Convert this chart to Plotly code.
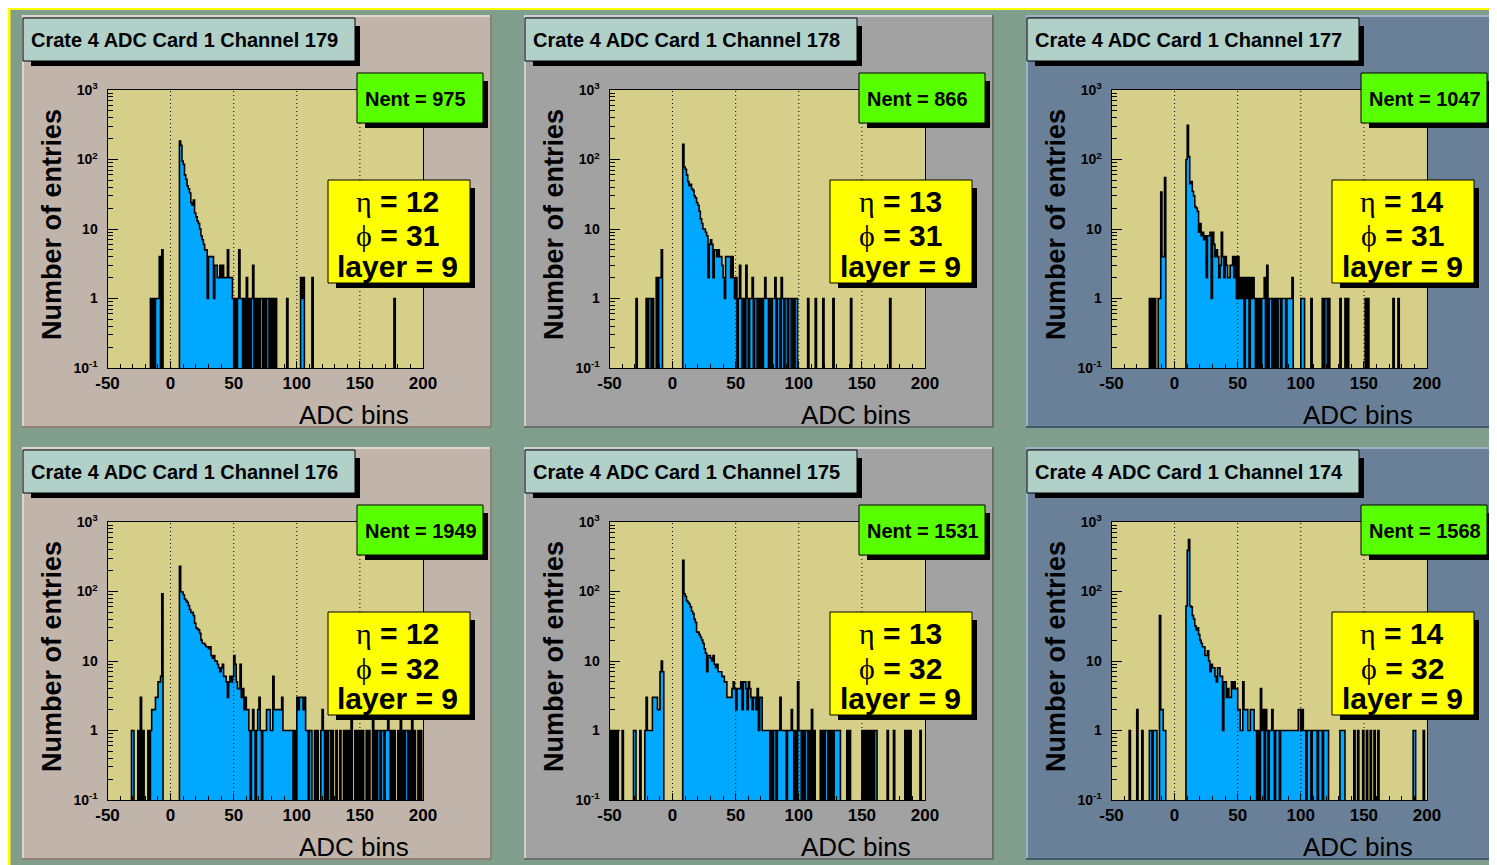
import plotly.graph_objects as go

# page size and the 8px body margin of the html page
PAGE_W, PAGE_H = 1497, 865
OFF = 8
W, H = PAGE_W - OFF, PAGE_H - OFF

# ---------------- data ----------------
channels = [179, 178, 177, 176, 175, 174]
nent = [975, 866, 1047, 1949, 1531, 1568]
eta = [12, 13, 14, 12, 13, 14]
phi = [31, 31, 31, 32, 32, 32]
layer = [9, 9, 9, 9, 9, 9]

x_ticks = [-50, 0, 50, 100, 150, 200]
x_ticktext = ["-50", "0", "50", "100", "150", "200"]
y_ticks = [0.1, 1, 10, 100, 1000]
y_ticktext = ["10<sup>-1</sup>", "1", "10", "10<sup>2</sup>", "10<sup>3</sup>"]

# ADC bin (lower edge, width 1) -> entries
counts_ch179 = {
    -16: 1, -14: 1, -12: 1, -11: 1, -10: 1, -9: 4, -7: 5,
    7: 185, 8: 160, 9: 95, 10: 85, 11: 60, 12: 52, 13: 42, 14: 38, 15: 33, 16: 24,
    17: 22, 18: 26, 19: 17, 20: 15, 21: 13, 22: 12, 23: 10, 24: 8, 25: 7, 26: 6,
    27: 5, 28: 5, 29: 1, 30: 4, 31: 4, 32: 4, 33: 4, 34: 1, 35: 3, 36: 3, 37: 2,
    38: 2, 39: 3, 40: 2, 41: 3, 42: 2, 43: 2, 44: 2, 45: 5, 46: 2, 47: 2, 48: 2,
    49: 1, 51: 1, 53: 1, 54: 5, 55: 1, 56: 1, 58: 1, 60: 2, 62: 1, 64: 1, 65: 3,
    67: 1, 69: 1, 71: 1, 72: 1, 74: 1, 76: 1, 77: 1, 79: 1, 81: 1, 83: 1,
    92: 1, 103: 2, 104: 1, 105: 2, 112: 2, 177: 1,
}
counts_ch178 = {
    -29: 1, -21: 1, -19: 1, -18: 1, -16: 1, -13: 2, -11: 2, -10: 2, -9: 5,
    8: 165, 9: 78, 10: 72, 11: 60, 12: 48, 13: 42, 14: 44, 15: 38, 16: 36, 17: 30,
    18: 28, 19: 24, 20: 22, 21: 18, 22: 14, 23: 12, 24: 10, 25: 10, 26: 9, 27: 8,
    28: 2, 29: 6, 30: 7, 31: 6, 32: 2, 33: 5, 34: 5, 35: 4, 36: 5, 37: 4, 38: 4,
    39: 3, 40: 2, 41: 1, 42: 4, 43: 4, 44: 4, 45: 4, 46: 2, 47: 4, 48: 2, 49: 1,
    50: 2, 52: 1, 53: 3, 54: 1, 56: 1, 58: 3, 59: 1, 61: 1, 62: 1, 63: 2, 65: 1,
    66: 1, 68: 1, 70: 1, 72: 1, 73: 2, 74: 1, 75: 1, 77: 1, 79: 1, 80: 1, 81: 2,
    83: 1, 84: 1, 86: 2, 87: 1, 89: 1, 90: 1, 92: 1, 93: 1, 95: 1, 97: 1, 98: 1,
    107: 1, 113: 1, 119: 1, 127: 1, 141: 1, 172: 1,
}
counts_ch177 = {
    -20: 1, -18: 1, -16: 1, -13: 1, -12: 1, -11: 34, -10: 4, -9: 4, -8: 55,
    9: 100, 10: 310, 11: 110, 12: 45, 13: 48, 14: 35, 15: 30, 16: 21, 17: 20,
    18: 18, 19: 9, 20: 12, 21: 8, 22: 9, 23: 7, 24: 8, 25: 2, 26: 8, 27: 8, 28: 9,
    29: 1, 30: 9, 31: 6, 32: 4, 33: 5, 34: 4, 35: 2, 36: 3, 37: 9, 38: 4, 39: 2,
    40: 4, 41: 3, 42: 2, 43: 2, 44: 3, 45: 3, 46: 4, 47: 2, 48: 4, 49: 1, 50: 4,
    51: 1, 52: 2, 53: 1, 54: 2, 56: 2, 57: 1, 58: 2, 60: 2, 61: 1, 62: 2, 63: 1,
    65: 1, 67: 1, 69: 1, 70: 1, 71: 2, 73: 3, 75: 1, 76: 1, 78: 1, 80: 1, 82: 1,
    83: 1, 85: 1, 86: 1, 87: 1, 89: 1, 90: 1, 91: 1, 92: 1, 93: 2,
    100: 1, 101: 1, 102: 1, 108: 1, 117: 1, 119: 1, 120: 1, 122: 1, 131: 1,
    135: 1, 137: 1, 151: 1, 153: 1, 173: 1, 177: 1,
}
counts_ch176 = {
    -31: 1, -30: 1, -26: 1, -24: 3, -22: 1, -18: 1, -16: 1, -15: 2, -14: 2,
    -13: 2, -12: 3, -11: 3, -10: 5, -9: 5, -8: 6, -7: 93,
    7: 230, 8: 100, 9: 98, 10: 90, 11: 78, 12: 74, 13: 70, 14: 63, 15: 55, 16: 50,
    17: 50, 18: 45, 19: 35, 20: 30, 21: 29, 22: 28, 23: 25, 24: 20, 25: 18, 26: 18,
    27: 17, 28: 16, 29: 16, 30: 15, 31: 16, 32: 12, 33: 11, 34: 12, 35: 10, 36: 10,
    37: 9, 38: 8, 39: 7, 40: 8, 41: 9, 42: 6, 43: 6, 44: 5, 45: 3, 46: 5, 47: 6,
    48: 5, 49: 6, 50: 12, 51: 9, 52: 5, 53: 4, 54: 4, 55: 9, 56: 3, 57: 4, 58: 2,
    59: 3, 60: 2, 61: 2, 62: 1, 64: 1, 65: 2, 66: 1, 68: 1, 69: 2, 70: 3, 71: 1,
    73: 1, 74: 1, 75: 1, 76: 2, 77: 2, 78: 2, 79: 1, 80: 1, 81: 6, 82: 2, 83: 2,
    84: 2, 85: 2, 86: 2, 87: 2, 88: 3, 89: 1, 90: 1, 91: 1, 92: 1, 93: 1, 94: 1,
    95: 1, 96: 1, 98: 1, 100: 3, 101: 2, 102: 3, 103: 3, 104: 3, 105: 2, 106: 3,
    107: 1, 108: 1, 110: 1, 111: 1, 114: 1, 116: 1, 119: 1, 120: 2, 121: 1,
    123: 1, 125: 1, 126: 1, 128: 1, 131: 1, 134: 1, 137: 1, 139: 1, 141: 1,
    143: 2, 146: 1, 148: 1, 150: 1, 152: 1, 155: 1, 157: 1, 160: 2, 162: 1,
    164: 1, 165: 1, 167: 1, 168: 1, 170: 1, 171: 1, 172: 2, 173: 1, 175: 1,
    177: 1, 180: 1, 182: 2, 184: 1, 186: 1, 187: 1, 189: 1, 191: 2, 193: 1,
    196: 1, 198: 1,
}
counts_ch175 = {
    -50: 1, -48: 1, -46: 1, -44: 1, -40: 1, -31: 1, -30: 1, -26: 1, -22: 1,
    -21: 3, -20: 1, -19: 1, -18: 1, -17: 1, -16: 3, -15: 3, -14: 3, -13: 3,
    -12: 2, -11: 2, -10: 7, -9: 10, -8: 7,
    8: 280, 9: 93, 10: 85, 11: 74, 12: 70, 13: 66, 14: 60, 15: 52, 16: 48, 17: 40,
    18: 36, 19: 26, 20: 26, 21: 24, 22: 22, 23: 20, 24: 18, 25: 15, 26: 13, 27: 7,
    28: 12, 29: 12, 30: 11, 31: 10, 32: 12, 33: 9, 34: 8, 35: 9, 36: 7, 37: 7,
    38: 7, 39: 6, 40: 6, 41: 5, 42: 5, 43: 3, 44: 3, 45: 3, 46: 3, 47: 4, 48: 5,
    49: 4, 50: 2, 51: 4, 52: 4, 53: 4, 54: 5, 55: 2, 56: 5, 57: 5, 58: 4, 59: 2,
    60: 5, 61: 4, 62: 3, 63: 2, 64: 3, 65: 3, 66: 2, 67: 4, 68: 1, 69: 3, 70: 3,
    71: 1, 72: 1, 73: 1, 74: 1, 75: 1, 76: 1, 78: 1, 80: 1, 81: 1, 83: 1, 84: 1,
    85: 3, 86: 1, 87: 1, 88: 1, 89: 1, 91: 1, 92: 1, 93: 1, 94: 2, 95: 1, 97: 1,
    99: 5, 100: 1, 101: 1, 103: 1, 105: 1, 106: 1, 108: 1, 110: 2, 112: 1,
    117: 1, 119: 1, 121: 1, 122: 1, 124: 1, 126: 1, 128: 1, 129: 1, 130: 1,
    131: 1, 132: 1, 138: 1, 140: 1, 150: 1, 152: 1, 154: 1, 156: 1, 158: 1,
    160: 1, 161: 1, 170: 1, 175: 1, 184: 1, 186: 1, 188: 1, 196: 1,
}
counts_ch174 = {
    -36: 1, -30: 2, -26: 1, -20: 1, -19: 1, -17: 1, -16: 1, -15: 1, -12: 45,
    -11: 2, -10: 2, -9: 1, -8: 1,
    9: 62, 10: 390, 11: 560, 12: 62, 13: 60, 14: 45, 15: 40, 16: 32, 17: 28,
    18: 30, 19: 24, 20: 20, 21: 18, 22: 16, 23: 16, 24: 12, 25: 12, 26: 14, 27: 10,
    28: 7, 29: 9, 30: 8, 31: 8, 32: 6, 33: 5, 34: 8, 35: 8, 36: 6, 37: 6, 38: 1,
    39: 5, 40: 5, 41: 3, 42: 4, 43: 3, 44: 3, 45: 5, 46: 4, 47: 5, 48: 4, 49: 4,
    50: 2, 51: 2, 52: 1, 53: 1, 54: 5, 55: 2, 56: 2, 57: 2, 58: 1, 59: 1, 60: 2,
    61: 2, 62: 2, 63: 1, 64: 1, 66: 1, 68: 4, 69: 1, 70: 2, 72: 2, 73: 1, 75: 1,
    76: 1, 77: 2, 78: 1, 80: 1, 81: 1, 82: 1, 84: 1, 85: 1, 86: 1, 87: 1, 88: 1,
    89: 1, 90: 1, 91: 1, 92: 1, 93: 1, 94: 1, 95: 1, 96: 1, 97: 1, 98: 2, 99: 2,
    100: 1, 101: 2, 102: 1, 103: 1, 105: 1, 106: 1, 107: 1, 109: 1, 110: 1,
    111: 1, 112: 1, 114: 1, 115: 1, 116: 1, 118: 1, 119: 1, 120: 1, 121: 1,
    131: 1, 132: 1, 133: 1, 134: 1, 142: 1, 145: 1, 149: 1, 152: 1, 155: 1,
    158: 1, 161: 1, 189: 1, 190: 1, 197: 1,
}
all_counts = [counts_ch179, counts_ch178, counts_ch177,
              counts_ch176, counts_ch175, counts_ch174]

# ---------------- style ----------------
pad_colors = ["#c0b4ab", "#a2a2a2", "#6a8098"]
pad_light = ["#ddd5cf", "#cfcfcf", "#9fb1c2"]
pad_dark = ["#8f7f74", "#6e6e6e", "#45586b"]
canvas_color = "#7f9f8c"
frame_color = "#d6cf89"
hist_fill = "#00a8ff"
title_fill = "#b0d0c8"
nent_fill = "#58ff00"
info_fill = "#ffff00"
FONT = "Arial, Liberation Sans, sans-serif"

# page-pixel layout
PAD_X0 = [22, 524, 1026]
PAD_Y0 = [15, 447]
PAD_W, PAD_H = 470, 413
XMIN, XMAX = x_ticks[0], x_ticks[-1]
FLOOR = 0.01  # below the axis range: empty bins drop off the frame


def fx(px):
    return (px - OFF) / W


def fy(py):
    return 1 - (py - OFF) / H


def rect(x0, y0, x1, y1, fill, layer_="below", line_color=None, line_width=0):
    return dict(type="rect", xref="paper", yref="paper",
                x0=fx(x0), x1=fx(x1), y0=fy(y1), y1=fy(y0),
                fillcolor=fill, layer=layer_,
                line=dict(width=line_width, color=line_color or fill))


def step_path(counts):
    xs, ys = [XMIN], [FLOOR]
    for b in range(XMIN, XMAX):
        c = counts.get(b, 0)
        v = c if c > 0 else FLOOR
        xs += [b, b + 1]
        ys += [v, v]
    xs.append(XMAX)
    ys.append(FLOOR)
    return xs, ys


fig = go.Figure()
shapes_below = []
shapes_above = []
annotations = []

# canvas
shapes_below.append(rect(OFF, OFF, PAGE_W, PAGE_H, "#ffff00"))
shapes_below.append(rect(OFF + 2.5, OFF + 2, PAGE_W, PAGE_H, canvas_color))

minor_x = list(range(XMIN, XMAX + 1, 10))
minor_y = [k * 10.0 ** e for e in range(-1, 3) for k in range(2, 10)]

for i in range(6):
    col, row = i % 3, i // 3
    px0, py0 = PAD_X0[col], PAD_Y0[row]
    px1, py1 = min(px0 + PAD_W, PAGE_W), py0 + PAD_H
    n = i + 1
    xa = "x" if n == 1 else f"x{n}"
    ya = "y" if n == 1 else f"y{n}"

    # pad with bevel
    shapes_below.append(rect(px0, py0, px1, py1, pad_colors[col]))
    shapes_below.append(rect(px0, py0, px1, py0 + 2, pad_light[col]))
    shapes_below.append(rect(px0, py0, px0 + 2, py1, pad_light[col]))
    shapes_below.append(rect(px0, py1 - 2, px1, py1, pad_dark[col]))
    shapes_below.append(rect(px1 - 2, py0, px1, py1, pad_dark[col]))

    # frame
    fx0, fx1 = px0 + 85.5, px0 + 401
    fy0, fy1 = py0 + 75, py0 + 353
    shapes_below.append(rect(fx0, fy0, fx1, fy1, frame_color))

    xs, ys = step_path(all_counts[i])
    fig.add_trace(go.Scatter(
        x=xs, y=ys, mode="lines", fill="toself", fillcolor=hist_fill,
        line=dict(color="black", width=1.6), xaxis=xa, yaxis=ya,
        hoverinfo="skip", showlegend=False))

    axis_common = dict(showline=True, linecolor="black", linewidth=1, mirror=True,
                       ticks="inside", tickcolor="black", tickwidth=1,
                       showgrid=False, zeroline=False, layer="above traces",
                       fixedrange=True, automargin=False)
    fig.update_layout(**{
        ("xaxis" if n == 1 else f"xaxis{n}"): dict(
            domain=[fx(fx0), fx(fx1)], anchor=ya, range=[XMIN, XMAX],
            tickmode="array", tickvals=x_ticks, ticktext=x_ticktext, ticklen=7,
            minor=dict(tickmode="array", tickvals=minor_x, ticks="inside",
                       ticklen=4, tickcolor="black", showgrid=False),
            tickfont=dict(family=FONT, size=17, color="black", weight="bold"),
            ticklabelstandoff=0, **axis_common),
        ("yaxis" if n == 1 else f"yaxis{n}"): dict(
            domain=[fy(fy1), fy(fy0)], anchor=xa, type="log", range=[-1, 3],
            tickmode="array", tickvals=y_ticks, ticktext=y_ticktext, ticklen=10,
            minor=dict(tickmode="array", tickvals=minor_y, ticks="inside",
                       ticklen=5, tickcolor="black", showgrid=False),
            tickfont=dict(family=FONT, size=14, color="black", weight="bold"),
            ticklabelstandoff=6, **axis_common),
    })

    # dotted grid at inner major ticks (drawn over the histogram)
    for g in x_ticks[1:-1]:
        shapes_above.append(dict(type="line", xref=xa, yref=f"{ya} domain",
                                 x0=g, x1=g, y0=0, y1=1, layer="above",
                                 line=dict(color="black", width=1, dash="1px,3px")))

    # title box
    shapes_above.append(rect(px0 + 9, py0 + 11, px0 + 338, py0 + 51, "black", "above"))
    shapes_above.append(rect(px0 + 1, py0 + 3, px0 + 333, py0 + 46, title_fill, "above",
                             "black", 1))
    annotations.append(dict(
        text=f"Crate 4 ADC Card 1 Channel {channels[i]}", xref="paper", yref="paper",
        x=fx(px0 + 7), y=fy(py0 + 24.5), xanchor="left", yanchor="middle",
        showarrow=False, font=dict(family=FONT, size=20, color="black", weight="bold")))

    # Nent box
    shapes_above.append(rect(px0 + 343, py0 + 66, px0 + 466, py0 + 113, "black", "above"))
    shapes_above.append(rect(px0 + 335, py0 + 58, px0 + 461, py0 + 108, nent_fill, "above",
                             "black", 1))
    annotations.append(dict(
        text=f"Nent = {nent[i]}", xref="paper", yref="paper",
        x=fx(px0 + 341), y=fy(py0 + 83.5), xanchor="left", yanchor="middle",
        showarrow=False, font=dict(family=FONT, size=20, color="black", weight="bold")))

    # eta / phi / layer box
    shapes_above.append(rect(px0 + 314, py0 + 173, px0 + 453, py0 + 273, "black", "above"))
    shapes_above.append(rect(px0 + 306, py0 + 165, px0 + 448, py0 + 268, info_fill, "above",
                             "black", 1))
    sym = "<span style='font-family:\"Times New Roman\",\"Liberation Serif\",serif;font-weight:normal'>%s</span>"
    lines = [(sym % "η") + f" = {eta[i]}",
             (sym % "ϕ") + f" = {phi[i]}",
             f"layer = {layer[i]}"]
    for t, oy in zip(lines, [186, 221, 251]):
        annotations.append(dict(
            text=t, xref="paper", yref="paper", x=fx(px0 + 376), y=fy(py0 + oy),
            xanchor="center", yanchor="middle", showarrow=False,
            font=dict(family=FONT, size=30, color="black", weight="bold")))

    # axis titles
    annotations.append(dict(
        text="Number of entries", xref="paper", yref="paper",
        x=fx(px0 + 30), y=fy(py0 + 210), xanchor="center", yanchor="middle",
        textangle=-90, showarrow=False,
        font=dict(family=FONT, size=27, color="black", weight="bold")))
    annotations.append(dict(
        text="ADC bins", xref="paper", yref="paper",
        x=fx(px0 + 389), y=fy(py0 + 400), xanchor="right", yanchor="middle",
        showarrow=False, font=dict(family=FONT, size=26, color="black")))

fig.update_layout(
    width=W, height=H, autosize=False,
    margin=dict(l=0, r=0, t=0, b=0, pad=0, autoexpand=False),
    paper_bgcolor="white", plot_bgcolor="rgba(0,0,0,0)",
    showlegend=False,
    shapes=shapes_below + shapes_above,
    annotations=annotations,
)

fig.write_html("out.html")
